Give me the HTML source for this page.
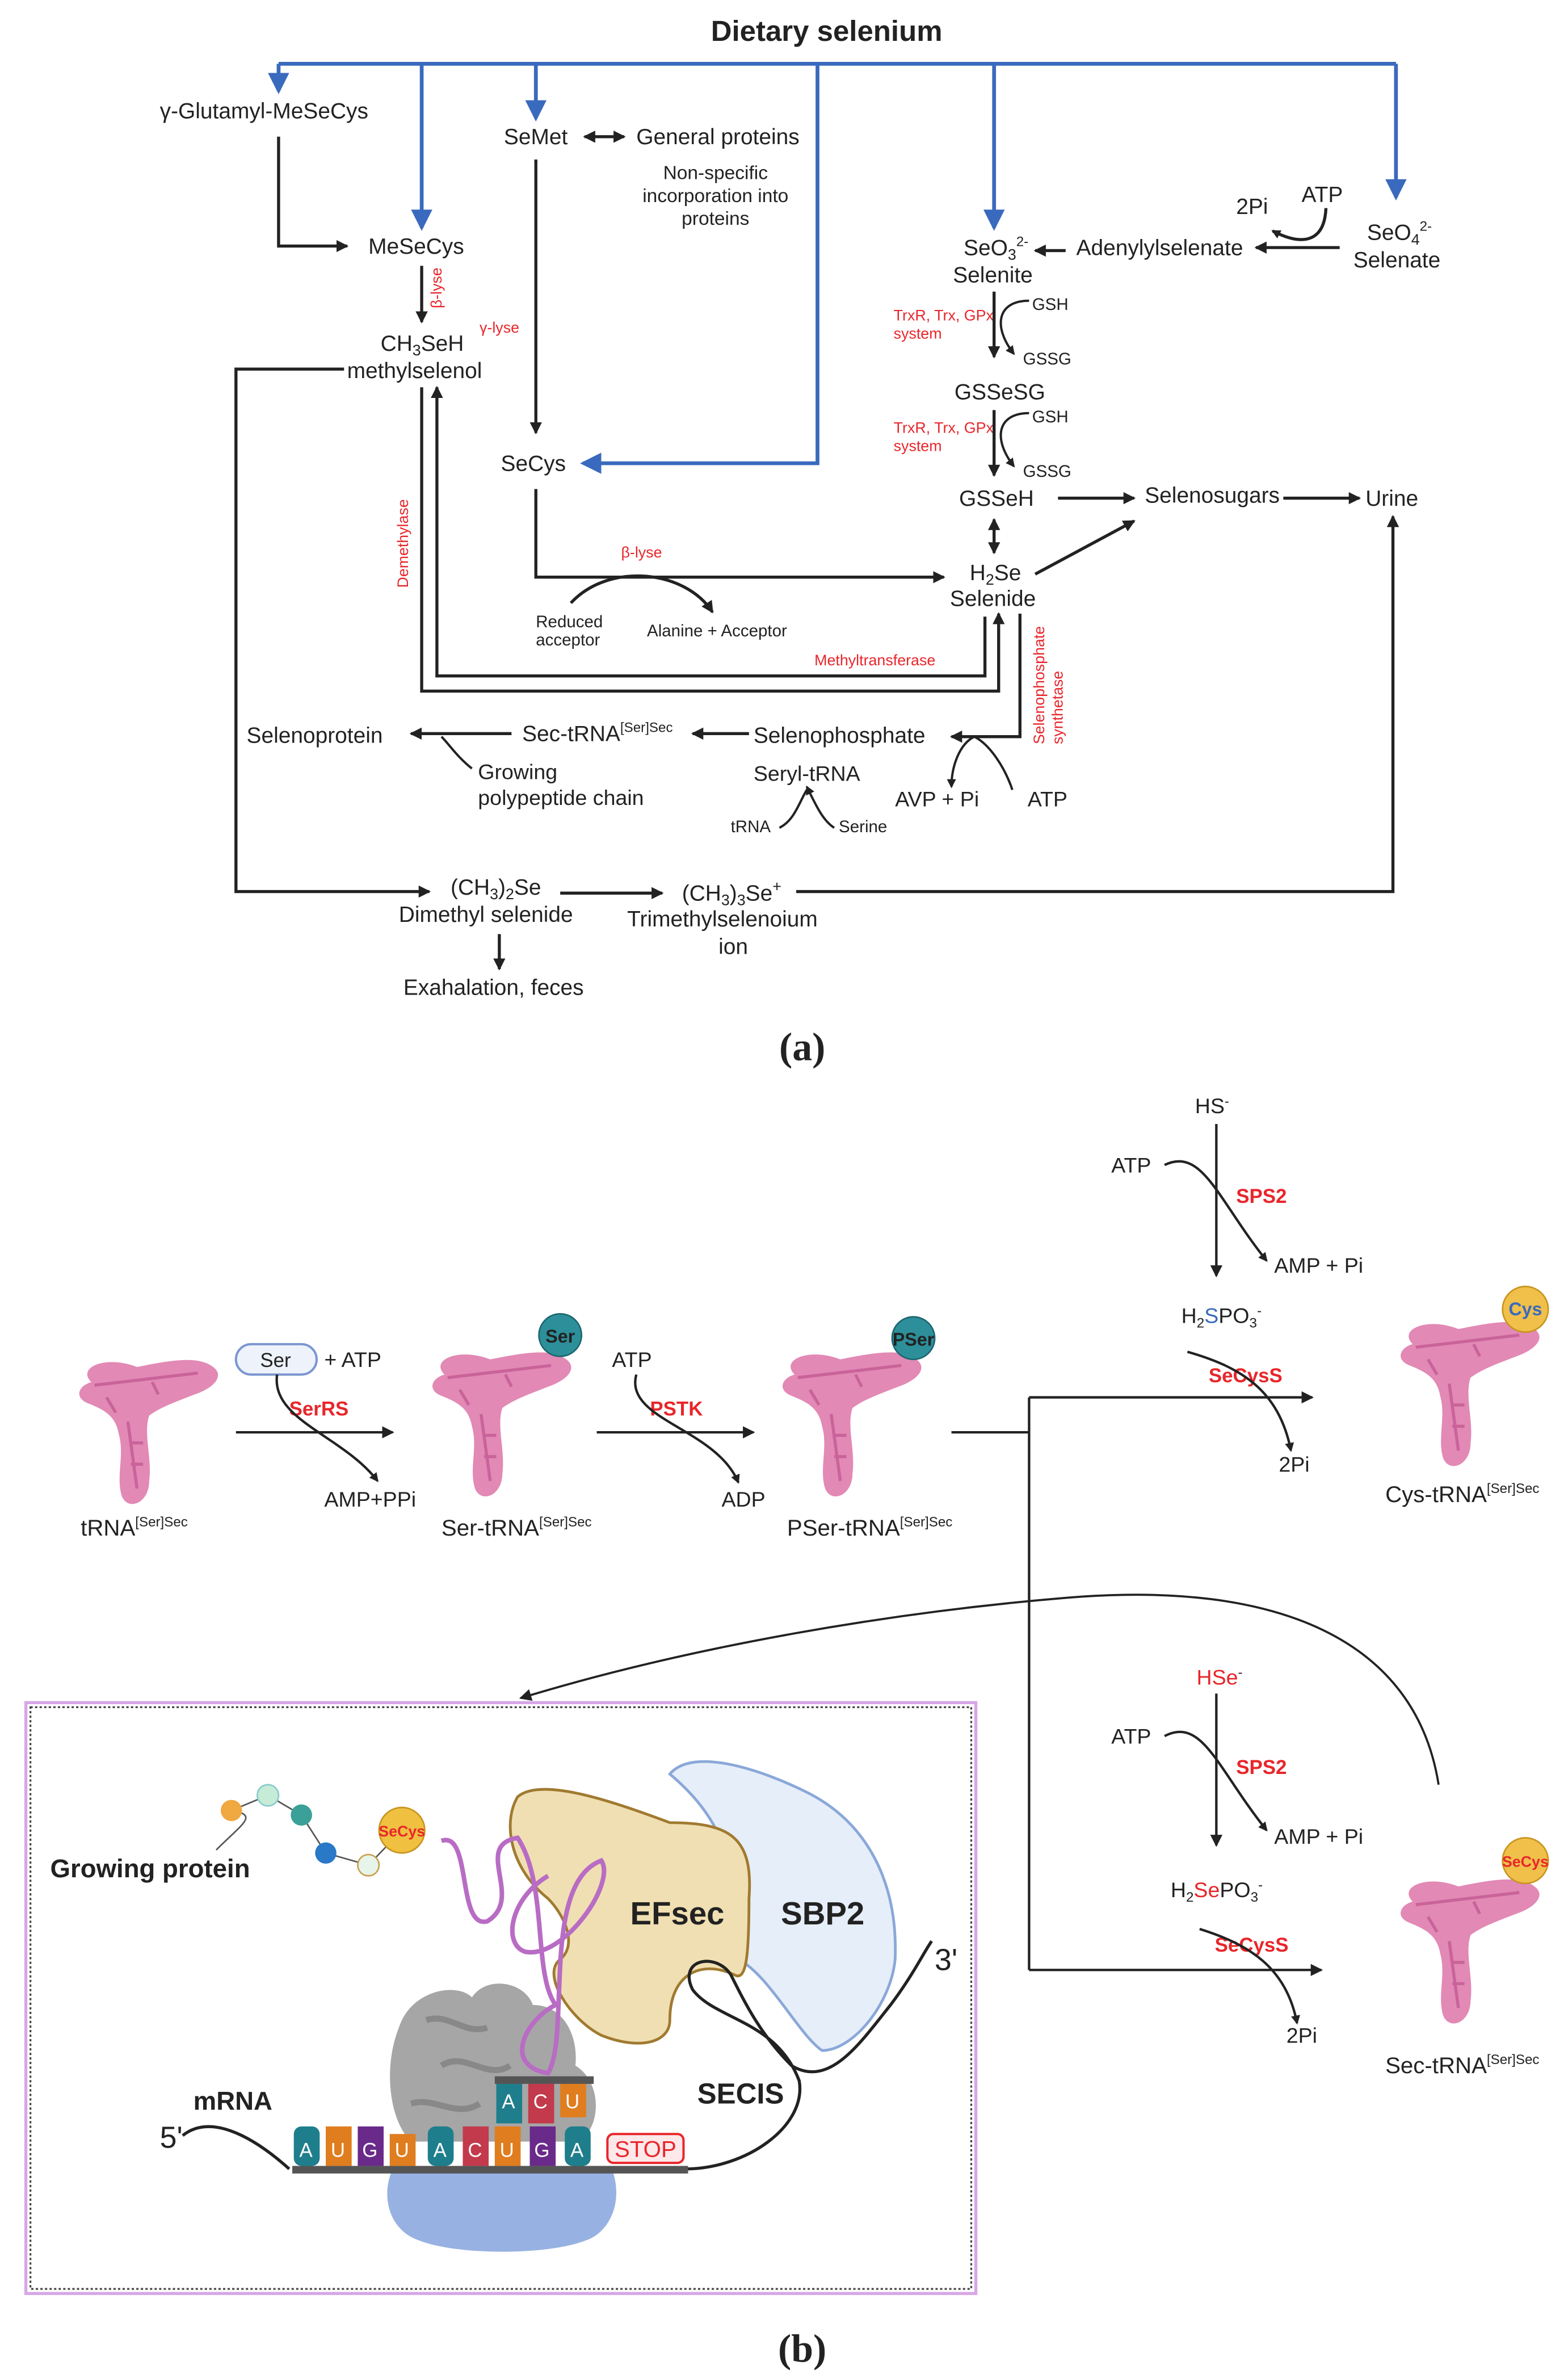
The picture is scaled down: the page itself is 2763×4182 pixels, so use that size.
<!DOCTYPE html>
<html><head><meta charset="utf-8"><style>
html,body{margin:0;padding:0;background:#fff}
svg{display:block}
text{font-family:"Liberation Sans",sans-serif;fill:#222}
.r{fill:#e8262b}
.s{font-family:"Liberation Serif",serif;font-weight:bold}
</style></head><body>
<svg width="2763" height="4182" viewBox="0 0 1030 1563" preserveAspectRatio="none" xmlns="http://www.w3.org/2000/svg">
<defs>
<marker id="a" markerWidth="8" markerHeight="8" refX="7" refY="4" orient="auto-start-reverse" markerUnits="userSpaceOnUse" viewBox="0 0 8 8"><path d="M0,0L8,4L0,8z" fill="#222"/></marker>
<marker id="as" markerWidth="6" markerHeight="6" refX="5" refY="3" orient="auto" markerUnits="userSpaceOnUse" viewBox="0 0 6 6"><path d="M0,0L6,3L0,6z" fill="#222"/></marker>
<marker id="ab" markerWidth="14" markerHeight="14" refX="12" refY="7" orient="auto" markerUnits="userSpaceOnUse" viewBox="0 0 14 14"><path d="M0,0L14,7L0,14z" fill="#3a6abd"/></marker>
<g id="trna">
<path d="M-30,-30 C-40,-40 -20,-48 0,-40 C20,-44 40,-48 50,-40 C58,-34 50,-26 38,-22 C28,-18 16,-14 8,-8 C4,4 10,20 8,35 C8,50 -6,55 -10,45 C-14,32 -8,18 -12,4 C-14,-8 -22,-12 -32,-16 C-42,-20 -38,-28 -30,-30z" fill="#e289b5"/>
<path d="M-28,-28 L40,-36 M-6,-4 L0,40 M-20,-20 L-14,-10 M10,-30 L14,-22 M-4,10 L4,10 M-4,24 L4,24" stroke="#c9639a" stroke-width="2" fill="none"/>
</g>
</defs>

<!-- ===== (a) ===== -->
<text x="543" y="27" font-size="19" font-weight="bold" text-anchor="middle">Dietary selenium</text>
<g stroke="#3a6abd" stroke-width="2.5" fill="none">
<path d="M183,42 H917"/>
<path d="M183,42 V60" marker-end="url(#ab)"/>
<path d="M277,42 V150" marker-end="url(#ab)"/>
<path d="M352,42 V78" marker-end="url(#ab)"/>
<path d="M537,42 V305 H383" marker-end="url(#ab)"/>
<path d="M653,42 V150" marker-end="url(#ab)"/>
<path d="M917,42 V130" marker-end="url(#ab)"/>
</g>
<g font-size="14.5">
<text x="105" y="78">γ-Glutamyl-MeSeCys</text>
<text x="242" y="167">MeSeCys</text>
<text x="250" y="231">CH<tspan font-size="10" dy="3">3</tspan><tspan dy="-3">SeH</tspan></text>
<text x="228" y="249">methylselenol</text>
<text x="331" y="95">SeMet</text>
<text x="418" y="95">General proteins</text>
<text x="329" y="310">SeCys</text>
<text x="633" y="168">SeO<tspan font-size="10" dy="3">3</tspan><tspan font-size="9" dy="-9">2-</tspan></text>
<text x="626" y="186">Selenite</text>
<text x="707" y="168">Adenylylselenate</text>
<text x="898" y="158">SeO<tspan font-size="10" dy="3">4</tspan><tspan font-size="9" dy="-9">2-</tspan></text>
<text x="889" y="176">Selenate</text>
<text x="855" y="133">ATP</text>
<text x="812" y="141">2Pi</text>
<text x="627" y="263">GSSeSG</text>
<text x="630" y="333">GSSeH</text>
<text x="752" y="331">Selenosugars</text>
<text x="897" y="333">Urine</text>
<text x="637" y="382">H<tspan font-size="10" dy="3">2</tspan><tspan dy="-3">Se</tspan></text>
<text x="624" y="399">Selenide</text>
<text x="495" y="489">Selenophosphate</text>
<text x="343" y="488">Sec-tRNA<tspan font-size="9" dy="-6">[Ser]Sec</tspan></text>
<text x="162" y="489">Selenoprotein</text>
<text x="314" y="513" font-size="14">Growing</text>
<text x="314" y="530" font-size="14">polypeptide chain</text>
<text x="495" y="514" font-size="14">Seryl-tRNA</text>
<text x="588" y="531" font-size="14">AVP + Pi</text>
<text x="675" y="531" font-size="14">ATP</text>
<text x="296" y="589">(CH<tspan font-size="10" dy="3">3</tspan><tspan dy="-3">)</tspan><tspan font-size="10" dy="3">2</tspan><tspan dy="-3">Se</tspan></text>
<text x="262" y="607">Dimethyl selenide</text>
<text x="448" y="593">(CH<tspan font-size="10" dy="3">3</tspan><tspan dy="-3">)</tspan><tspan font-size="10" dy="3">3</tspan><tspan dy="-3">Se</tspan><tspan font-size="10" dy="-6">+</tspan></text>
<text x="412" y="610">Trimethylselenoium</text>
<text x="472" y="628">ion</text>
<text x="265" y="655">Exahalation, feces</text>
</g>
<g font-size="12.5" text-anchor="middle">
<text x="470" y="118">Non-specific</text>
<text x="470" y="133">incorporation into</text>
<text x="470" y="148">proteins</text>
</g>
<g font-size="11">
<text x="352" y="413">Reduced</text><text x="352" y="425">acceptor</text>
<text x="425" y="419">Alanine + Acceptor</text>
<text x="678" y="204">GSH</text><text x="672" y="240">GSSG</text>
<text x="678" y="278">GSH</text><text x="672" y="314">GSSG</text>
<text x="480" y="548">tRNA</text><text x="551" y="548">Serine</text>
</g>
<g font-size="10" class="r">
<text x="587" y="211" class="r">TrxR, Trx, GPx</text><text x="587" y="223" class="r">system</text>
<text x="587" y="285" class="r">TrxR, Trx, GPx</text><text x="587" y="297" class="r">system</text>
<text x="408" y="367" class="r">β-lyse</text>
<text x="315" y="219" class="r">γ-lyse</text>
<text x="535" y="438" class="r">Methyltransferase</text>
<text transform="translate(290,203) rotate(-90)" class="r">β-lyse</text>
<text transform="translate(268,387) rotate(-90)" class="r">Demethylase</text>
<text transform="translate(686,490) rotate(-90)" class="r">Selenophosphate</text>
<text transform="translate(698,490) rotate(-90)" class="r">synthetase</text>
</g>
<g stroke="#222" stroke-width="2" fill="none">
<path d="M183,90 V162 H228" marker-end="url(#a)"/>
<path d="M277,175 V212" marker-end="url(#a)"/>
<path d="M384,90 H410" marker-end="url(#a)" marker-start="url(#a)"/>
<path d="M352,105 V285" marker-end="url(#a)"/>
<path d="M352,322 V380 H620" marker-end="url(#a)"/>
<path d="M375,397 C400,370 450,375 468,403" marker-end="url(#a)"/>
<path d="M226,243 H155 V587 H282" marker-end="url(#a)"/>
<path d="M277,255 V455 H656 V404" marker-end="url(#a)"/>
<path d="M647,406 V445 H287 V255" marker-end="url(#a)"/>
<path d="M368,588 H435" marker-end="url(#a)"/>
<path d="M328,615 V638" marker-end="url(#a)"/>
<path d="M523,587 H915 V340" marker-end="url(#a)"/>
<path d="M700,165 H680" marker-end="url(#a)"/>
<path d="M880,163 H825" marker-end="url(#a)"/>
<path d="M871,137 C870,160 855,162 836,152" marker-end="url(#as)"/>
<path d="M653,192 V235" marker-end="url(#a)"/>
<path d="M676,198 C655,198 652,215 666,233" marker-end="url(#as)" stroke-width="1.5"/>
<path d="M653,270 V313" marker-end="url(#a)"/>
<path d="M676,272 C655,272 652,289 666,307" marker-end="url(#as)" stroke-width="1.5"/>
<path d="M653,342 V364" marker-end="url(#a)" marker-start="url(#a)"/>
<path d="M695,328 H745" marker-end="url(#a)"/>
<path d="M843,328 H893" marker-end="url(#a)"/>
<path d="M680,378 L745,343" marker-end="url(#a)"/>
<path d="M670,404 V485 H625" marker-end="url(#a)"/>
<path d="M640,485 C630,490 625,505 625,518" marker-end="url(#as)" stroke-width="1.5"/>
<path d="M640,485 C650,490 660,505 665,520" stroke-width="1.5"/>
<path d="M492,483 H455" marker-end="url(#a)"/>
<path d="M336,483 H270" marker-end="url(#a)"/>
<path d="M310,506 C300,498 295,490 290,485" stroke-width="1.5"/>
<path d="M512,545 C522,540 525,528 530,520" stroke-width="1.5"/>
<path d="M548,545 C540,540 535,528 530,518" marker-end="url(#as)" stroke-width="1.5"/>
</g>
<text x="527" y="698" font-size="26" class="s" text-anchor="middle">(a)</text>

<!-- ===== (b) ===== -->
<use href="#trna" x="90" y="940"/>
<use href="#trna" x="322" y="935"/>
<use href="#trna" x="552" y="935"/>
<use href="#trna" x="958" y="915"/>
<use href="#trna" x="958" y="1282"/>
<g font-size="15">
<text x="53" y="1011">tRNA<tspan font-size="9" dy="-6">[Ser]Sec</tspan></text>
<text x="290" y="1011">Ser-tRNA<tspan font-size="9" dy="-6">[Ser]Sec</tspan></text>
<text x="517" y="1011">PSer-tRNA<tspan font-size="9" dy="-6">[Ser]Sec</tspan></text>
<text x="910" y="989">Cys-tRNA<tspan font-size="9" dy="-6">[Ser]Sec</tspan></text>
<text x="910" y="1365">Sec-tRNA<tspan font-size="9" dy="-6">[Ser]Sec</tspan></text>
</g>
<rect x="155" y="885" width="53" height="20" rx="10" fill="#eef2fb" stroke="#7b96d0" stroke-width="1.5"/>
<text x="181" y="900" font-size="13" text-anchor="middle">Ser</text>
<circle cx="368" cy="879" r="14" fill="#2d8f9a" stroke="#1c6670"/><text x="368" y="884" font-size="12" font-weight="bold" text-anchor="middle">Ser</text>
<circle cx="600" cy="881" r="14" fill="#2d8f9a" stroke="#1c6670"/><text x="600" y="886" font-size="12" font-weight="bold" text-anchor="middle">PSer</text>
<circle cx="1002" cy="862" r="15" fill="#f0c04a" stroke="#c89520"/><text x="1002" y="866" font-size="12" font-weight="bold" text-anchor="middle" style="fill:#3a6abd">Cys</text>
<circle cx="1002" cy="1225" r="15" fill="#f0c04a" stroke="#c89520"/><text x="1002" y="1229" font-size="10" font-weight="bold" text-anchor="middle" style="fill:#e8262b">SeCys</text>
<g font-size="14">
<text x="213" y="900">+ ATP</text>
<text x="213" y="992">AMP+PPi</text>
<text x="402" y="900">ATP</text>
<text x="474" y="992">ADP</text>
<text x="785" y="733">HS<tspan font-size="9" dy="-5">-</tspan></text>
<text x="730" y="772">ATP</text>
<text x="837" y="838">AMP + Pi</text>
<text x="776" y="871">H<tspan font-size="9" dy="3">2</tspan><tspan dy="-3" style="fill:#3a6abd">S</tspan><tspan>PO</tspan><tspan font-size="9" dy="3">3</tspan><tspan font-size="9" dy="-8">-</tspan></text>
<text x="840" y="969">2Pi</text>
<text x="786" y="1109"><tspan style="fill:#e8262b">HSe</tspan><tspan font-size="9" dy="-5">-</tspan></text>
<text x="730" y="1148">ATP</text>
<text x="837" y="1214">AMP + Pi</text>
<text x="769" y="1249">H<tspan font-size="9" dy="3">2</tspan><tspan dy="-3" style="fill:#e8262b">Se</tspan><tspan>PO</tspan><tspan font-size="9" dy="3">3</tspan><tspan font-size="9" dy="-8">-</tspan></text>
<text x="845" y="1345">2Pi</text>
</g>
<g font-size="13" font-weight="bold">
<text x="190" y="932" class="r">SerRS</text>
<text x="427" y="932" class="r">PSTK</text>
<text x="812" y="792" class="r">SPS2</text>
<text x="794" y="910" class="r">SeCysS</text>
<text x="812" y="1168" class="r">SPS2</text>
<text x="798" y="1285" class="r">SeCysS</text>
</g>
<g stroke="#222" stroke-width="1.6" fill="none">
<path d="M155,943 H258" marker-end="url(#a)"/>
<path d="M182,905 C178,935 225,945 248,975" marker-end="url(#as)"/>
<path d="M392,943 H495" marker-end="url(#a)"/>
<path d="M418,905 C410,935 470,940 485,976" marker-end="url(#as)"/>
<path d="M625,943 H676 M676,920 V1297"/>
<path d="M676,920 H862" marker-end="url(#a)"/>
<path d="M676,1297 H868" marker-end="url(#a)"/>
<path d="M799,740 V840" marker-end="url(#a)"/>
<path d="M765,767 C790,755 800,790 832,830" marker-end="url(#as)"/>
<path d="M780,890 C815,900 840,915 848,955" marker-end="url(#as)"/>
<path d="M799,1115 V1215" marker-end="url(#a)"/>
<path d="M765,1143 C790,1130 800,1165 832,1205" marker-end="url(#as)"/>
<path d="M788,1270 C820,1280 845,1295 852,1332" marker-end="url(#as)"/>
<path d="M945,1175 C930,1080 840,1040 700,1052 C580,1062 450,1085 342,1118" stroke-width="1.4" marker-end="url(#a)"/>
</g>
<!-- box -->
<rect x="17" y="1121" width="624" height="389" fill="#fff" stroke="#d7a6e6" stroke-width="2"/>
<rect x="20" y="1124" width="618" height="383" fill="none" stroke="#444" stroke-width="1.2" stroke-dasharray="1.5,1.5"/>
<!-- SBP2 -->
<path d="M440,1168 C455,1150 500,1165 530,1180 C570,1200 590,1240 588,1290 C585,1320 560,1350 540,1350 C525,1340 505,1300 485,1290 C480,1250 490,1210 440,1168z" fill="#e6eef9" stroke="#8aa8d8" stroke-width="1.8"/>
<!-- EFsec -->
<path d="M340,1183 C355,1170 400,1185 440,1200 C480,1200 495,1210 492,1250 C492,1290 490,1305 482,1300 C460,1290 440,1300 440,1330 C440,1345 420,1350 395,1340 C375,1330 355,1300 368,1290 C380,1280 370,1260 360,1250 C335,1230 330,1200 340,1183z" fill="#f0dfb2" stroke="#a07a30" stroke-width="1.8"/>
<text x="414" y="1267" font-size="21" font-weight="bold">EFsec</text>
<text x="513" y="1267" font-size="21" font-weight="bold">SBP2</text>
<!-- ribosome -->
<path d="M262,1335 C270,1310 300,1305 310,1315 C320,1300 345,1305 350,1320 C370,1320 380,1340 378,1360 C395,1370 396,1400 380,1410 L270,1410 C255,1395 252,1360 262,1335z" fill="#a6a6a6"/>
<path d="M280,1330 C295,1325 305,1340 320,1335 M290,1360 C305,1350 320,1370 335,1360 M270,1385 C285,1380 300,1395 315,1385" stroke="#888" stroke-width="4" fill="none"/>
<path d="M258,1428 L402,1428 C410,1450 400,1470 385,1475 C360,1485 300,1485 275,1475 C255,1468 250,1445 258,1428z" fill="#97b2e2"/>
<!-- protein chain -->
<path d="M290,1212 C310,1205 300,1270 320,1265 C345,1250 310,1215 340,1210 C360,1240 350,1300 365,1320 C345,1330 330,1360 360,1365 C375,1340 355,1240 395,1225 C405,1240 370,1290 345,1285 C330,1280 335,1250 360,1235" stroke="#b86cc4" stroke-width="3" fill="none"/>
<path d="M142,1218 C160,1200 170,1195 152,1192 L176,1182 L198,1195 L214,1220 L242,1228 L264,1205" stroke="#555" stroke-width="1" fill="none"/>
<circle cx="152" cy="1192" r="7" fill="#f0a840"/>
<circle cx="176" cy="1182" r="7" fill="#c6ecd8" stroke="#8cc"/>
<circle cx="198" cy="1195" r="7" fill="#3aa098"/>
<circle cx="214" cy="1220" r="7" fill="#2a78c8"/>
<circle cx="242" cy="1228" r="7" fill="#e6f4ea" stroke="#c8a050"/>
<circle cx="264" cy="1205" r="15" fill="#f0c040" stroke="#c89520"/>
<text x="264" y="1209" font-size="10" font-weight="bold" text-anchor="middle" style="fill:#e8262b">SeCys</text>
<text x="33" y="1236" font-size="17" font-weight="bold">Growing protein</text>
<text x="127" y="1389" font-size="17" font-weight="bold">mRNA</text>
<text x="458" y="1385" font-size="19" font-weight="bold">SECIS</text>
<text x="105" y="1414" font-size="20">5'</text>
<text x="614" y="1297" font-size="20">3'</text>
<!-- mRNA -->
<path d="M120,1406 C140,1390 170,1410 190,1428" stroke="#222" stroke-width="2" fill="none"/>
<path d="M450,1428 C490,1428 530,1400 525,1370 C510,1330 470,1330 455,1310 C445,1290 470,1285 480,1300 C490,1320 500,1340 520,1360 C545,1375 565,1345 585,1320 C600,1300 607,1285 612,1278" stroke="#222" stroke-width="2" fill="none"/>
<rect x="192" y="1426" width="260" height="5" fill="#555"/>
<rect x="325" y="1367" width="65" height="5" fill="#555"/>
<g font-size="13" text-anchor="middle">
<rect x="193" y="1400" width="17" height="26" rx="5" fill="#1f7e8c"/><text x="201" y="1420" style="fill:#fff">A</text>
<rect x="214" y="1400" width="17" height="26" fill="#e07d1e"/><text x="222" y="1420" style="fill:#fff">U</text>
<rect x="235" y="1400" width="17" height="26" fill="#6a2a8a"/><text x="243" y="1420" style="fill:#fff">G</text>
<rect x="256" y="1405" width="17" height="21" fill="#e07d1e"/><text x="264" y="1420" style="fill:#fff">U</text>
<rect x="281" y="1400" width="17" height="26" rx="5" fill="#1f7e8c"/><text x="289" y="1420" style="fill:#fff">A</text>
<rect x="304" y="1400" width="17" height="26" fill="#c23a4c"/><text x="312" y="1420" style="fill:#fff">C</text>
<rect x="325" y="1400" width="17" height="26" fill="#e07d1e"/><text x="333" y="1420" style="fill:#fff">U</text>
<rect x="348" y="1400" width="17" height="26" fill="#6a2a8a"/><text x="356" y="1420" style="fill:#fff">G</text>
<rect x="371" y="1400" width="17" height="26" rx="5" fill="#1f7e8c"/><text x="379" y="1420" style="fill:#fff">A</text>
<rect x="326" y="1372" width="17" height="26" fill="#1f7e8c"/><text x="334" y="1388" style="fill:#fff">A</text>
<rect x="347" y="1372" width="17" height="26" fill="#c23a4c"/><text x="355" y="1388" style="fill:#fff">C</text>
<rect x="368" y="1372" width="17" height="22" fill="#e07d1e"/><text x="376" y="1388" style="fill:#fff">U</text>
</g>
<rect x="399" y="1405" width="50" height="19" rx="4" fill="#fde8ea" stroke="#e8262b" stroke-width="1.5"/>
<text x="424" y="1420" font-size="15" text-anchor="middle" style="fill:#e8262b">STOP</text>
<text x="527" y="1555" font-size="26" class="s" text-anchor="middle">(b)</text>
</svg>
</body></html>
